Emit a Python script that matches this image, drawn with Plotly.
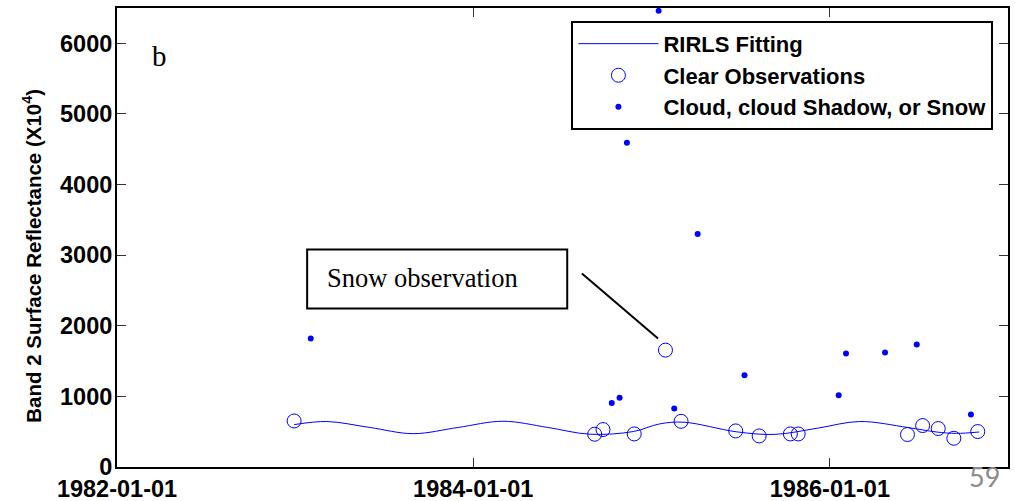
import plotly.graph_objects as go

# Clear observations (date, reflectance x10^4)
clear_dates = ["1982-12-30", "1984-09-06", "1984-09-23", "1984-11-26", "1985-01-29",
               "1985-03-02", "1985-06-22", "1985-08-09", "1985-10-12", "1985-10-28",
               "1986-06-09", "1986-07-10", "1986-08-11", "1986-09-12", "1986-10-31"]
clear_vals = [652, 464, 530, 468, 1655, 647, 511, 440, 468, 468, 460, 587, 545, 407, 502]

# Cloud, cloud shadow, or snow observations
cloud_dates = ["1983-02-02", "1984-10-11", "1984-10-27", "1984-11-11", "1985-01-15",
               "1985-02-16", "1985-04-05", "1985-07-10", "1986-01-19", "1986-02-03",
               "1986-04-24", "1986-06-28", "1986-10-17"]
cloud_vals = [1821, 908, 979, 4591, 6460, 828, 3298, 1301, 1017, 1608, 1622, 1736, 743]

# RIRLS fitted curve
fit_dates = ["1982-12-30", "1983-03-07", "1983-06-03", "1983-08-31", "1983-12-01",
             "1984-03-02", "1984-06-02", "1984-08-27", "1984-11-24", "1985-01-17",
             "1985-03-08", "1985-06-24", "1985-09-10", "1985-12-07", "1986-03-03",
             "1986-06-10", "1986-08-07", "1986-09-17", "1986-11-03"]
fit_vals = [600, 644, 560, 472, 560, 648, 560, 464, 502, 610,
            634, 498, 462, 550, 644, 559, 496, 476, 496]

x_ticks = ["1982-01-01", "1984-01-01", "1986-01-01"]
y_ticks = [0, 1000, 2000, 3000, 4000, 5000, 6000]

BLUE = "#0000ff"

fig = go.Figure()
fig.add_trace(go.Scatter(x=fit_dates, y=fit_vals, mode="lines", name="RIRLS Fitting",
                         line=dict(color=BLUE, width=1, shape="spline", smoothing=1.0)))
fig.add_trace(go.Scatter(x=clear_dates, y=clear_vals, mode="markers", name="Clear Observations",
                         marker=dict(symbol="circle-open", size=14, color=BLUE,
                                     line=dict(width=1, color=BLUE))))
fig.add_trace(go.Scatter(x=cloud_dates, y=cloud_vals, mode="markers",
                         name="Cloud, cloud Shadow, or Snow",
                         marker=dict(symbol="circle", size=6, color=BLUE)))

axis_common = dict(showline=True, linecolor="black", linewidth=2, mirror="ticks",
                   ticks="inside", ticklen=9, tickwidth=1, tickcolor="#333333",
                   showgrid=False, zeroline=False, automargin=False,
                   tickfont=dict(family="Liberation Sans, Arial", size=23.5, color="black",
                                 weight="bold"))

fig.update_xaxes(type="date", range=["1982-01-01", "1987-01-01"],
                 tickvals=x_ticks, ticktext=x_ticks, **axis_common)
fig.update_yaxes(range=[0, 6500], tickvals=y_ticks,
                 ticktext=[str(v) for v in y_ticks], ticklabelstandoff=-2, **axis_common)

fig.update_layout(
    width=1015, height=501,
    margin=dict(l=117, r=7, t=8, b=34, autoexpand=False),
    paper_bgcolor="white", plot_bgcolor="white",
    showlegend=True,
    legend=dict(x=0.51, y=0.972, xanchor="left", yanchor="top",
                bgcolor="white", bordercolor="black", borderwidth=2,
                font=dict(family="Liberation Sans, Arial", size=22, color="black", weight="bold"),
                itemwidth=80, tracegroupgap=0),
)

# Y axis title
fig.add_annotation(xref="paper", yref="paper", x=-0.0955, y=0.46,
                   text="Band 2 Surface Reflectance (X10<sup>4</sup>)", textangle=-90,
                   showarrow=False, xanchor="center", yanchor="middle",
                   font=dict(family="Liberation Sans, Arial", size=20.5, color="black", weight="bold"))

# panel label
fig.add_annotation(xref="paper", yref="paper", x=0.048, y=0.895, text="b", showarrow=False,
                   xanchor="center", yanchor="middle",
                   font=dict(family="Liberation Serif, Times New Roman", size=29, color="black"))

# Snow observation callout
fig.add_shape(type="rect", xref="paper", yref="paper", x0=0.2134, x1=0.5053, y0=0.3453, y1=0.474,
              line=dict(color="black", width=2), fillcolor="white", layer="above")
fig.add_annotation(xref="paper", yref="paper", x=0.2335, y=0.4114, text="Snow observation",
                   showarrow=False, xanchor="left", yanchor="middle",
                   font=dict(family="Liberation Serif, Times New Roman", size=26.5, color="black"))
fig.add_shape(type="line", xref="paper", yref="paper", x0=0.5218, y0=0.4216, x1=0.6072, y1=0.2799,
              line=dict(color="black", width=2))

# slide page number
fig.add_annotation(xref="paper", yref="paper", x=0.974, y=-0.021, text="59", showarrow=False,
                   xanchor="center", yanchor="middle",
                   font=dict(family="Lato, Liberation Sans", size=27, color="#8c8c8c"))

fig.write_html("out.html", config={"displayModeBar": False},
               post_script="document.body.style.margin='0';")
